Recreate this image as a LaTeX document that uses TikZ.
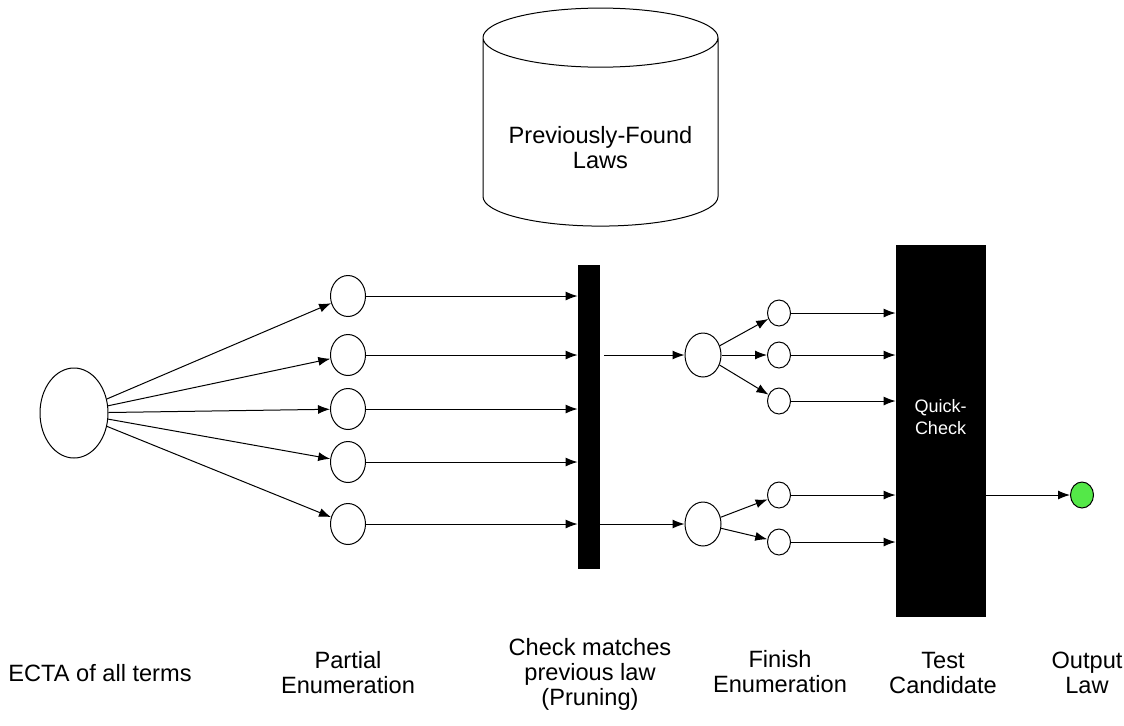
\documentclass[tikz,border=0pt]{standalone}
\usepackage{fontspec}
\setmainfont{Liberation Sans}
\usetikzlibrary{arrows.meta,shapes.geometric}
\definecolor{lawgreen}{RGB}{84,232,72}

\begin{document}
\begin{tikzpicture}[
    x=0.5pt, y=-0.5pt,
    >={Latex[length=6pt,width=4.5pt]},
    font=\fontsize{11.8}{12.5}\selectfont,
    state/.style={
        draw,
        ellipse,
        line width=0.5pt,
        fill=white,
        inner sep=0pt
    },
    bigstate/.style={state, minimum width=34pt, minimum height=45pt},
    midstate/.style={state, minimum width=18pt, minimum height=22pt},
    smallstate/.style={state, minimum width=17.5pt, minimum height=20.5pt},
    tinystate/.style={state, minimum width=11.5pt, minimum height=13pt},
    barbox/.style={
        draw,
        fill=black,
        inner sep=0pt
    },
    lawstore/.style={
        draw,
        cylinder,
        shape border rotate=90,
        aspect=0.3,
        line width=0.5pt,
        align=center,
        minimum width=117.5pt,
        minimum height=109pt
    },
    caption/.style={align=center},
    arrow/.style={->, line width=0.5pt}
]
\useasboundingbox (0,0) rectangle (1124,725);

% --- NODES ---
\node[lawstore] (laws) at (600.5,137) {\\[1ex]Previously-Found\\Laws};

\node[bigstate] (ecta) at (74,413) {};

% partial enumeration
\node[smallstate] (p1) at (348,296) {};
\node[smallstate] (p2) at (348,355) {};
\node[smallstate] (p3) at (348,409) {};
\node[smallstate] (p4) at (348,462) {};
\node[smallstate] (p5) at (348,524) {};

\node[barbox, minimum width=10.5pt, minimum height=151.5pt] (prune) at (588.5,416.5) {};

% finish enumeration
\node[midstate] (fin1) at (703,355) {};
\node[midstate] (fin2) at (703,524) {};

\node[tinystate] (t1) at (779,313) {};
\node[tinystate] (t2) at (779,355) {};
\node[tinystate] (t3) at (779,401) {};
\node[tinystate] (t4) at (779,495) {};
\node[tinystate] (t5) at (779,542) {};

\node[barbox, minimum width=44.5pt, minimum height=185.5pt, text=white,
      align=center, font=\fontsize{9}{11}\selectfont] (qc) at (940.5,430.5)
{Quick-\\Check\\[0.6ex]};

\node[state, fill=lawgreen, minimum width=11.5pt, minimum height=13pt] (out) at (1082,495) {};

% --- CAPTIONS ---
\node[caption] (capecta) at (100,673) {ECTA of all terms};
\node[caption] (cappart) at (348,673) {Partial\\Enumeration};
\node[caption] (capprune) at (590,674) {Check matches\\previous law\\(Pruning)};
\node[caption] (capfin) at (780,672) {Finish\\Enumeration};
\node[caption] (captest) at (943,673) {Test\\Candidate};
\node[caption] (capout) at (1087,673) {Output\\Law};

% --- CONNECTIONS ---
\foreach \i in {1,...,5} {
    \draw[arrow] (ecta) -- (p\i);
    \draw[arrow] (p\i) -- (p\i -| prune.west);
    \draw[arrow] (t\i) -- (t\i -| qc.west);
}

\draw[arrow] ([xshift=2.5pt]prune.east |- fin1) -- (fin1);
\draw[arrow] (prune.east |- fin2) -- (fin2);

\draw[arrow] (fin1) -- (t1);
\draw[arrow] (fin1) -- (t2);
\draw[arrow] (fin1) -- (t3);
\draw[arrow] (fin2) -- (t4);
\draw[arrow] (fin2) -- (t5);

\draw[arrow] (qc.east |- out) -- (out);

\end{tikzpicture}
\end{document}
